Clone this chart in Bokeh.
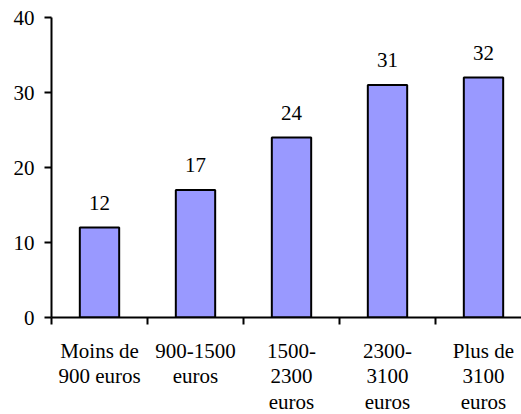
from bokeh.plotting import figure
from bokeh.models import FixedTicker, ColumnDataSource, Range1d
from bokeh.core.properties import value
from bokeh.embed import file_html
from bokeh.resources import INLINE

categories = ["Moins de\n900 euros", "900-1500\neuros", "1500-\n2300\neuros", "2300-\n3100\neuros", "Plus de\n3100\neuros"]
values = [12, 17, 24, 31, 32]
y_ticks = [0, 10, 20, 30, 40]

centers = [i + 0.5 for i in range(len(categories))]
bounds = [i for i in range(len(categories) + 1)]
labels = [str(v) for v in values]

FONT = "Liberation Serif"

p = figure(output_backend="svg", toolbar_location=None,
           frame_width=470, frame_height=300,
           min_border_left=51, min_border_top=17, min_border_right=0, min_border_bottom=97,
           x_range=Range1d(0, 470 / 96), y_range=Range1d(0, 40))
p.outline_line_color = None
p.xgrid.visible = False
p.ygrid.visible = False

src = ColumnDataSource(dict(x=centers, top=values, label=labels))
p.vbar(x="x", top="top", width=0.41, bottom=0, source=src,
       fill_color="#9999FF", line_color="black", line_width=2)
p.text(x="x", y="top", text="label", source=src, text_align="center",
       text_baseline="bottom", y_offset=-18, text_font=value(FONT),
       text_font_size="21px", text_color="black")

xa = p.xaxis[0]
xa.ticker = FixedTicker(ticks=centers, minor_ticks=bounds)
xa.major_label_overrides = {c: lab for c, lab in zip(centers, categories)}
xa.major_tick_out = 0
xa.major_tick_in = 0
xa.minor_tick_out = 7
xa.minor_tick_in = 0
xa.minor_tick_line_width = 2
xa.minor_tick_line_color = "black"
xa.axis_line_width = 2
xa.axis_line_color = "black"
xa.major_label_text_font = FONT
xa.major_label_text_font_size = "21px"
xa.major_label_text_color = "black"
xa.major_label_standoff = 14
xa.major_label_text_line_height = 1.08

ya = p.yaxis[0]
ya.ticker = FixedTicker(ticks=y_ticks, minor_ticks=[])
ya.major_tick_out = 7
ya.major_tick_in = 0
ya.major_tick_line_width = 2
ya.axis_line_width = 2
ya.axis_line_color = "black"
ya.major_tick_line_color = "black"
ya.major_label_text_font = FONT
ya.major_label_text_font_size = "21px"
ya.major_label_text_color = "black"
ya.major_label_standoff = 10

open("out.html", "w").write(file_html(p, INLINE))
